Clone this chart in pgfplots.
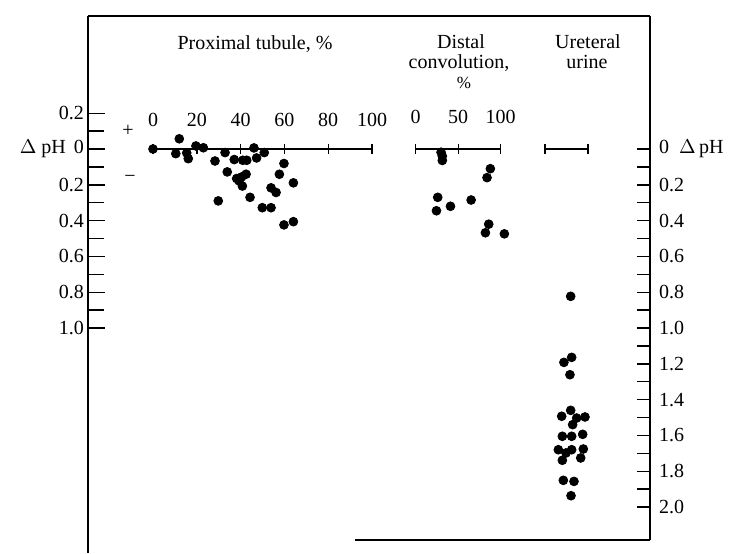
\documentclass[border=0pt]{standalone}
\usepackage{pgfplots}
\pgfplotsset{compat=1.18}
\usepackage{pgfplotstable}
\usepackage{fontspec}
\setmainfont{Liberation Serif}

\pgfplotstableread{
x y
0 0
12.0 0.057
10.4 -0.026
15.4 -0.022
16.1 -0.054
19.6 0.017
23.0 0.007
28.3 -0.067
32.9 -0.02
33.9 -0.128
29.8 -0.29
37.1 -0.059
41.0 -0.063
42.8 -0.063
46.1 0.006
47.3 -0.05
50.8 -0.02
38.2 -0.165
39.3 -0.178
40.5 -0.156
42.5 -0.141
40.8 -0.207
44.3 -0.27
49.9 -0.328
53.9 -0.328
53.9 -0.217
56.2 -0.243
57.7 -0.141
59.8 -0.081
64.1 -0.189
59.8 -0.424
64.1 -0.406
}\proximal

\pgfplotstableread{
x y
29.8 -0.018
31.3 -0.04
31.3 -0.064
87.8 -0.11
83.9 -0.16
25.9 -0.27
24.4 -0.345
40.9 -0.32
65.2 -0.285
85.9 -0.42
82.0 -0.468
104.3 -0.474
}\distal

\pgfplotstableread{
x y
59.7 -0.823
62.0 -1.164
44.0 -1.192
58.0 -1.261
59.7 -1.460
38.8 -1.493
73.6 -1.503
93.0 -1.497
64.3 -1.540
40.3 -1.605
62.0 -1.605
87.6 -1.594
31.0 -1.680
48.8 -1.698
62.0 -1.680
89.1 -1.676
40.3 -1.739
83.0 -1.726
42.6 -1.851
67.4 -1.857
60.5 -1.937
}\ureteral

\pgfplotsset{
  panel/.style={at={(0pt,0pt)}, anchor=south west, scale only axis,
    width=365pt, height=276.5pt, ymin=-2.25698, ymax=0.83240,
    hide axis, clip=false},
  dots/.style={only marks, mark=*, mark size=2.2pt, black},
  scaleline/.style={black, line width=0.7pt, mark=|, mark size=2.6pt,
    mark options={line width=0.7pt}},
}

\begin{document}
\begin{tikzpicture}
\path[use as bounding box] (0pt,0pt) rectangle (365pt,276.5pt);

% left axis
\begin{axis}[at={(44pt,0pt)}, anchor=south west, scale only axis,
  width=281pt, height=268.5pt, xmin=0, xmax=1,
  ymin=-2.25698, ymax=0.74302,
  axis x line=none, axis y line*=left, axis line style={-, black, line width=0.7pt},
  ytick={0.2,0,-0.2,-0.4,-0.6,-0.8,-1.0},
  yticklabels={0.2,{$\Delta$ pH\hspace{4pt}0},0.2,0.4,0.6,0.8,1.0},
  minor ytick={0.1,-0.1,-0.3,-0.5,-0.7,-0.9},
  tick align=inside, major tick length=8.5pt, minor tick length=8pt,
  tick style={black, line width=0.7pt},
  yticklabel style={font=\fontsize{10}{12}\selectfont, xshift=1.5pt},
  /pgf/number format/assume math mode=true]
\end{axis}

% right axis
\begin{axis}[at={(44pt,6.5pt)}, anchor=south west, scale only axis,
  width=281pt, height=262pt, xmin=0, xmax=1,
  ymin=-2.18436, ymax=0.74302,
  axis x line=none, axis y line*=right, axis line style={-, black, line width=0.7pt},
  ytick={0,-0.2,-0.4,-0.6,-0.8,-1.0,-1.2,-1.4,-1.6,-1.8,-2.0},
  yticklabels={{0\hspace{5pt}$\Delta$\,pH},0.2,0.4,0.6,0.8,1.0,1.2,1.4,1.6,1.8,2.0},
  minor ytick={-0.1,-0.3,-0.5,-0.7,-0.9,-1.1,-1.3,-1.5,-1.7,-1.9},
  tick align=inside, major tick length=6.5pt, minor tick length=6.5pt,
  tick style={black, line width=0.7pt},
  yticklabel style={font=\fontsize{10}{12}\selectfont, xshift=1pt},
  /pgf/number format/assume math mode=true]
\end{axis}

% frame top and bottom
\draw[line width=0.7pt] (44pt,268.5pt) -- (325pt,268.5pt);
\draw[line width=0.7pt] (177.5pt,6.5pt) -- (325pt,6.5pt);

% proximal panel
\begin{axis}[panel, xmin=-69.863, xmax=263.470]
\addplot[scaleline] coordinates {(0,0) (20,0) (40,0) (60,0) (80,0) (100,0)};
\addplot[dots] table {\proximal};
\foreach \v in {0,20,40,60,80,100} {
  \edef\tmp{\noexpand\node[font=\noexpand\fontsize{10}{12}\noexpand\selectfont] at (axis cs:\v,0.165) {\v};}
  \tmp
}
\end{axis}

% distal panel
\begin{axis}[panel, xmin=-489.06, xmax=369.76]
\addplot[scaleline] coordinates {(0,0) (50,0) (100,0)};
\addplot[dots] table {\distal};
\foreach \v in {0,50,100} {
  \edef\tmp{\noexpand\node[font=\noexpand\fontsize{10}{12}\noexpand\selectfont] at (axis cs:\v,0.18) {\v};}
  \tmp
}
\end{axis}

% ureteral panel
\begin{axis}[panel, xmin=-1267.44, xmax=430.23]
\addplot[scaleline] coordinates {(0,0) (100,0)};
\addplot[dots] table {\ureteral};
\end{axis}

% titles
\begin{scope}[every node/.style={font=\fontsize{10}{12}\selectfont, inner sep=0pt, anchor=base}]
\node at (127.5pt,251.5pt) {Proximal tubule, \%};
\node at (230.5pt,252pt) {Distal};
\node at (229.5pt,242pt) {convolution,};
\node[font=\fontsize{8.5}{10}\selectfont] at (232pt,232pt) {\%};
\node at (294pt,252pt) {Ureteral};
\node at (293.5pt,242pt) {urine};
\end{scope}
\node[font=\fontsize{10}{12}\selectfont] at (64pt,211pt) {+};
\node[font=\fontsize{10}{12}\selectfont] at (65pt,187pt) {−};
\end{tikzpicture}
\end{document}
